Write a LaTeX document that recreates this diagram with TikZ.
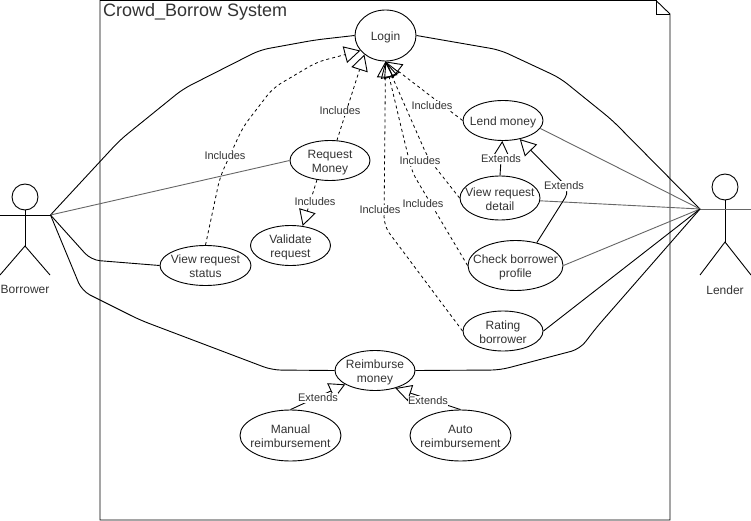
\documentclass[tikz,border=0pt]{standalone}
\usepackage{fontspec}
\setmainfont{Liberation Sans}
\usetikzlibrary{arrows.meta,shapes.geometric}
\definecolor{caseText}{HTML}{333333}
\definecolor{assocGray}{HTML}{666666}
\newcommand{\casetext}[1]{\makebox[0pt]{\raisebox{-5.5pt}[0pt][0pt]{\begin{tabular}{@{}c@{}}#1\end{tabular}}}}

\begin{document}
\begin{tikzpicture}[
        x=1pt, y=-1pt,
        every node/.style={font=\fontsize{12}{14}\selectfont, text=caseText},
        usecase/.style={ellipse, draw=black, line width=0.9pt, fill=white, inner sep=0pt, minimum width=80pt, minimum height=40pt},
        head/.style={circle, draw=black, line width=0.9pt, minimum size=26pt, inner sep=0pt},
        lbl/.style={fill=white, inner sep=0.5pt, font=\fontsize{11}{13}\selectfont},
        wire/.style={line width=0.9pt, black},
        assoc/.style={line width=0.9pt, black, rounded corners=9pt},
        gassoc/.style={line width=0.9pt, assocGray},
        incl/.style={line width=0.8pt, black, dashed, dash pattern=on 3pt off 3pt, rounded corners=9pt, -{Triangle[open,length=16pt,width=17pt,line width=0.9pt]}},
        extd/.style={line width=0.9pt, black, rounded corners=9pt, -{Triangle[open,length=16pt,width=17pt,line width=0.9pt]}}
    ]
        \useasboundingbox (0,0) rectangle (751,521);

        % system frame
        \draw[wire] (100,0.5) -- (656,0.5) -- (670,14) -- (670,520) -- (100,520) -- cycle;
        \draw[wire] (656,0.5) -- (656,14) -- (670,14);
        \node[anchor=west, inner sep=0pt, font=\fontsize{18}{20}\selectfont] (title) at (103,11.5) {Crowd\_Borrow System};

        % actors
        \node[head] (borrowerHead) at (25,197) {};
        \coordinate (borrowerHip) at (25,246);
        \coordinate (borrowerHand) at (50.5,215);
        \draw[wire] (borrowerHead) -- (borrowerHip);
        \draw[wire] (0,215) -- (borrowerHand);
        \draw[wire] (0,275) -- (borrowerHip) -- (50,275);
        \node (borrower) at (25,289.5) {Borrower};

        \node[head] (lenderHead) at (725,187) {};
        \coordinate (lenderHip) at (725,242);
        \coordinate (lenderHand) at (700,209);
        \draw[wire] (lenderHead) -- (lenderHip);
        \draw[gassoc] (lenderHand) -- (751,209);
        \draw[wire] (700,275) -- (lenderHip) -- (751,275);
        \node (lender) at (725,290) {Lender};

        % use cases
        \node[usecase, minimum width=61pt, minimum height=51pt] (login) at (385.5,35.5) {\casetext{Login}};
        \node[usecase] (request) at (330,160.5) {\casetext{Request\\Money}};
        \node[usecase] (validate) at (290.5,245.5) {\casetext{Validate\\request}};
        \node[usecase, minimum width=91pt] (status) at (205.5,265.5) {\casetext{View request\\status}};
        \node[usecase] (lend) at (503,120.5) {\casetext{Lend money}};
        \node[usecase, minimum height=44pt] (detail) at (500,198) {\casetext{View request\\detail}};
        \node[usecase, minimum width=95pt, minimum height=50pt] (profile) at (515.5,265.5) {\casetext{Check borrower\\profile}};
        \node[usecase] (rating) at (503,331) {\casetext{Rating\\borrower}};
        \node[usecase] (reimburse) at (375,370.5) {\casetext{Reimburse\\money}};
        \node[usecase, minimum width=101pt, minimum height=51pt] (manual) at (290.5,435.5) {\casetext{Manual\\reimbursement}};
        \node[usecase, minimum width=101pt, minimum height=51pt] (auto) at (460.5,435.5) {\casetext{Auto\\reimbursement}};

        % borrower side
        \draw[assoc] (borrowerHand) -- (120,140) -- (183,89) -- (260,50) -- (315,40) -- (login.west);
        \draw[gassoc] (borrowerHand) -- (request.west);
        \draw[assoc] (borrowerHand) -- (91,260) -- (status.west);
        \draw[assoc] (borrowerHand) -- (82,291) -- (140,320) -- (272,370) -- (reimburse.west);

        % lender side
        \draw[assoc] (lenderHand) -- (612,120) -- (560,78) -- (500,50) -- (login.east);
        \draw[gassoc] (lenderHand) -- (lend.348);
        \draw[gassoc] (lenderHand) -- (detail.356);
        \draw[gassoc] (lenderHand) -- (profile.east);
        \draw[wire] (lenderHand) -- (rating.east);
        \draw[assoc] (lenderHand) -- (596,328) -- (580,349) -- (500,370) -- (reimburse.east);

        % includes
        \draw[incl] (status.north) -- (220,177) -- (243,127) -- (273,88) -- (317,62) -- (login.211);
        \draw[incl] (request.71) -- (login.222);
        \draw[incl] (request.236) -- (validate.58);
        \draw[incl] (lend.west) -- (login.270);
        \draw[incl] (detail.west) -- (428,158) -- (login.270);
        \draw[incl] (profile.west) -- (412,172) -- (403,135) -- (login.270);
        \draw[incl] (rating.west) -- (384,226) -- (login.270);

        % extends
        \draw[extd] (detail.north) -- (lend.268);
        \draw[extd] (profile.47) -- (570,190) -- (lend.312);
        \draw[extd] (manual.north) -- (reimburse.205);
        \draw[extd] (auto.north) -- (reimburse.319);

        % labels
        \node[lbl] (inclStatus) at (225,156) {Includes};
        \node[lbl] (inclRequest) at (340,111) {Includes};
        \node[lbl] (inclValidate) at (315,202) {Includes};
        \node[lbl] (inclLend) at (432,106) {Includes};
        \node[lbl] (inclDetail) at (420,161) {Includes};
        \node[lbl] (inclProfile) at (423,204) {Includes};
        \node[lbl] (inclRating) at (380,210) {Includes};
        \node[lbl] (extdDetail) at (501,159) {Extends};
        \node[lbl] (extdProfile) at (564,186) {Extends};
        \node[lbl] (extdManual) at (318,398) {Extends};
        \node[lbl] (extdAuto) at (428,401) {Extends};
    \end{tikzpicture}
\end{document}
